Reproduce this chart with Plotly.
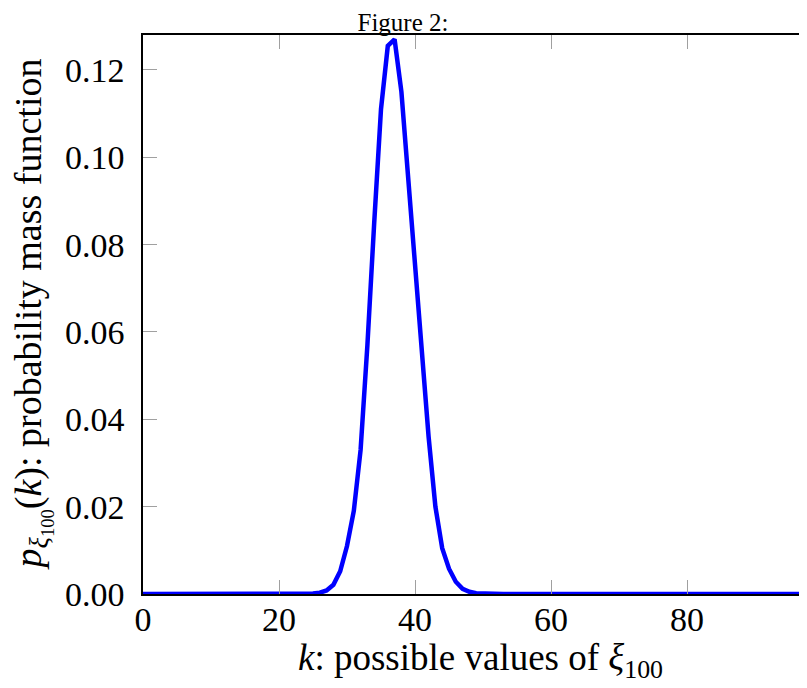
import plotly.graph_objects as go

# ---- data ----
k_values = list(range(0, 100))
pmf_core_k = [25, 26, 27, 28, 29, 30, 31, 32, 33, 34, 35, 36, 37,
              38, 39, 40, 41, 42, 43, 44, 45, 46, 47, 48, 49, 50]
pmf_core_v = [0.0001, 0.0003, 0.0008, 0.0021, 0.0052, 0.0110, 0.0190, 0.0330, 0.0570, 0.0850, 0.1110, 0.1255, 0.1270,
              0.1150, 0.0950, 0.0760, 0.0550, 0.0360, 0.0200, 0.0105, 0.0058, 0.0028, 0.0012, 0.0005, 0.0002, 0.0001]
pmf = [0.0] * len(k_values)
for kk, vv in zip(pmf_core_k, pmf_core_v):
    pmf[kk] = vv

x_tick_vals = [0, 20, 40, 60, 80]
x_tick_text = ["0", "20", "40", "60", "80"]
y_tick_vals = [0.0, 0.02, 0.04, 0.06, 0.08, 0.10, 0.12]
y_tick_text = ["0.00", "0.02", "0.04", "0.06", "0.08", "0.10", "0.12"]

title_text = "Figure 2:"
x_label = "<i>k</i>: possible values of <i>ξ</i><sub>100</sub>"
y_label = "<i>p</i><sub><i>ξ</i><sub>100</sub></sub>(<i>k</i>): probability mass function"

# ---- layout constants (page body has an 8px margin) ----
OFF = 8
W, H = 807 - OFF, 688 - OFF
ML, MR, MT, MB = 143 - OFF, 0, 35 - OFF, 94
plot_w = W - ML - MR
plot_h = H - MT - MB
px_per_unit = 6.8
x_max_visible = plot_w / px_per_unit
FONT = "Liberation Serif"
TICK_COLOR = "#a0a0a0"

fig = go.Figure()
fig.add_trace(go.Scatter(
    x=k_values, y=pmf, mode="lines",
    line=dict(color="#0000ff", width=4.5),
    cliponaxis=False, showlegend=False,
))

fig.update_layout(
    width=W, height=H,
    margin=dict(l=ML, r=MR, t=MT, b=MB),
    paper_bgcolor="white", plot_bgcolor="white",
    font=dict(family=FONT, size=34, color="black"),
    title=dict(text=title_text, font=dict(family=FONT, size=25, color="black"),
               x=(403 - OFF) / W, xref="container", xanchor="center",
               y=1 - (22 - OFF) / H, yref="container", yanchor="middle"),
    xaxis=dict(range=[0, x_max_visible], tickvals=x_tick_vals, ticktext=x_tick_text,
               ticks="inside", ticklen=14, tickwidth=1, tickcolor=TICK_COLOR,
               showline=True, linecolor="black", linewidth=1.5, mirror="ticks",
               showgrid=False, zeroline=False, tickfont=dict(size=34), ticklabelstandoff=-6),
    yaxis=dict(range=[0, 0.128], tickvals=y_tick_vals, ticktext=y_tick_text,
               ticks="inside", ticklen=14, tickwidth=1, tickcolor=TICK_COLOR,
               showline=True, linecolor="black", linewidth=1.5, mirror=False,
               showgrid=False, zeroline=False, tickfont=dict(size=34), ticklabelstandoff=10),
)

# right-hand (mirrored) y ticks, partially visible at the clipped right edge
for yv in y_tick_vals[1:]:
    fig.add_shape(type="line", xref="paper", yref="y",
                  x0=1 - 5 / plot_w, x1=1, y0=yv, y1=yv,
                  line=dict(color=TICK_COLOR, width=1))

# axis titles
fig.add_annotation(text=x_label, xref="x", yref="paper",
                   x=(480 - 143) / px_per_unit, y=-(660 - 594) / plot_h,
                   xanchor="center", yanchor="middle", showarrow=False,
                   font=dict(family=FONT, size=37))
fig.add_annotation(text=y_label, xref="paper", yref="paper",
                   x=-(143 - 32) / plot_w, y=0.5, textangle=-90,
                   xanchor="center", yanchor="middle", showarrow=False,
                   font=dict(family=FONT, size=38))

fig.write_html("out.html")
